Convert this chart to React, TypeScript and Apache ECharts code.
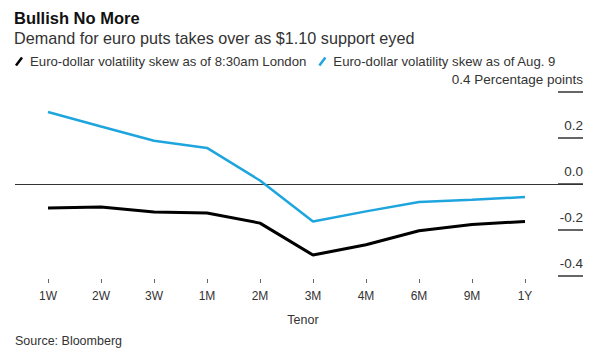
import React, { useEffect, useRef } from "react";
import * as echarts from "echarts";

const tenors = ["1W", "2W", "3W", "1M", "2M", "3M", "4M", "6M", "9M", "1Y"];
const skewLondon = [-0.104, -0.1, -0.122, -0.126, -0.17, -0.309, -0.264, -0.203, -0.176, -0.163];
const skewAug9 = [0.313, 0.25, 0.188, 0.157, 0.015, -0.163, -0.119, -0.078, -0.068, -0.057];
const seriesNames = [
  "Euro-dollar volatility skew as of 8:30am London",
  "Euro-dollar volatility skew as of Aug. 9",
];
const yTicks = { min: -0.4, max: 0.4, interval: 0.2 };

const FONT = "'Liberation Sans', Arial, Helvetica, sans-serif";
const SLASH = "path://M0,10 L7.5,0 L10,1.6 L2.5,11.6 Z";

export default function App() {
  const ref = useRef<HTMLDivElement>(null);
  useEffect(() => {
    if (!ref.current) return;
    const chart = echarts.init(ref.current, undefined, { renderer: "svg" });
    const option: any = {
      animation: false,
      backgroundColor: "#ffffff",
      textStyle: { fontFamily: FONT },
      title: [
        {
          text: "Bullish No More",
          left: 14,
          top: 9,
          padding: 0,
          textStyle: { fontFamily: FONT, fontSize: 16.5, fontWeight: "bold", color: "#111" },
        },
        {
          text: "Demand for euro puts takes over as $1.10 support eyed",
          left: 14,
          top: 30,
          padding: 0,
          textStyle: { fontFamily: FONT, fontSize: 16.2, fontWeight: "normal", color: "#333" },
        },
        {
          text: "Source: Bloomberg",
          left: 15,
          top: 334,
          padding: 0,
          textStyle: { fontFamily: FONT, fontSize: 12.5, fontWeight: "normal", color: "#333" },
        },
      ],
      legend: {
        left: 15,
        top: 55,
        padding: 0,
        selectedMode: false,
        itemWidth: 8,
        itemHeight: 10,
        itemGap: 12,
        icon: SLASH,
        textStyle: { fontFamily: FONT, fontSize: 13.2, color: "#333", padding: [0, 0, 0, 2] },
        data: seriesNames,
      },
      grid: { left: 21.5, width: 530, top: 92, height: 184 },
      xAxis: {
        type: "category",
        data: tenors,
        boundaryGap: true,
        offset: 3,
        axisLine: { show: true, onZero: false, lineStyle: { color: "#ffffff", width: 1, opacity: 0 } },
        axisTick: { show: true, alignWithLabel: true, interval: 0, length: 4, lineStyle: { color: "#666", width: 1, opacity: 1 } },
        axisLabel: { margin: 11, fontSize: 12, color: "#333", fontFamily: FONT },
        splitLine: { show: false },
      },
      yAxis: {
        type: "value",
        position: "right",
        min: yTicks.min,
        max: yTicks.max,
        interval: yTicks.interval,
        offset: 6.5,
        axisLine: { show: false },
        axisTick: { show: true, length: 25, lineStyle: { color: "#333", width: 1.5 } },
        splitLine: { show: false },
        axisLabel: {
          margin: 25,
          align: "right",
          verticalAlign: "bottom",
          padding: [0, 0, 6, 0],
          fontSize: 13.5,
          color: "#333",
          fontFamily: FONT,
          formatter: (v: number) => {
            const s = Math.abs(v) < 1e-9 ? "0.0" : v.toFixed(1);
            return Math.abs(v - yTicks.max) < 1e-9 ? s + " Percentage points" : s;
          },
        },
      },
      series: [
        {
          name: seriesNames[0],
          type: "line",
          data: skewLondon,
          showSymbol: false,
          color: "#000000",
          lineStyle: { width: 3, color: "#000000" },
          z: 3,
        },
        {
          name: seriesNames[1],
          type: "line",
          data: skewAug9,
          showSymbol: false,
          color: "#1ea5de",
          lineStyle: { width: 2.5, color: "#1ea5de" },
          z: 3,
        },
      ],
    };
    chart.setOption(option);
    const y0 = Math.round(chart.convertToPixel({ yAxisIndex: 0 }, 0) as number) + 0.5;
    const x3m = chart.convertToPixel({ xAxisIndex: 0 }, "3M") as number;
    chart.setOption({
      graphic: [
        {
          type: "line",
          shape: { x1: 15, y1: y0, x2: 583, y2: y0 },
          style: { stroke: "#333", lineWidth: 1 },
          z: 1,
        },
        {
          type: "text",
          x: x3m - 10,
          y: 320,
          style: {
            text: "Tenor",
            fontFamily: FONT,
            fontSize: 12.5,
            fill: "#333",
            textAlign: "center",
            textVerticalAlign: "middle",
          },
        },
      ],
    });
    return () => chart.dispose();
  }, []);
  return <div ref={ref} style={{ width: 600, height: 353, position: "absolute", left: 0, top: 0 }} />;
}
